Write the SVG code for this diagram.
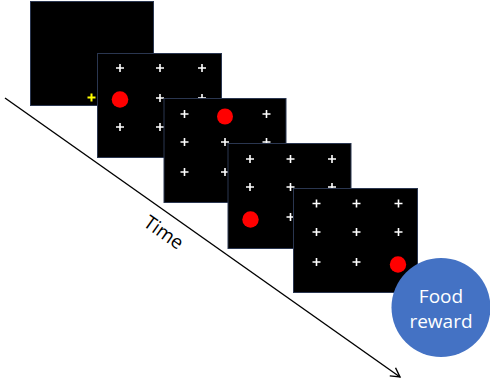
<svg xmlns="http://www.w3.org/2000/svg" width="490" height="383" viewBox="0 0 490 383">
<defs>
<style>
.panel{fill:#000;stroke:#2a3650;stroke-width:1}
.cr{stroke:#fff;stroke-width:1.6;fill:none}
.yc{stroke:#ffff00;stroke-width:2;fill:none}
.dot{fill:#ff0000}
.lbl{font-family:"Open Sans","Liberation Sans",sans-serif;font-size:19px;fill:#fff;text-anchor:middle}
</style>
<path id="x" d="M-4 0H4M0 -4V4"/>
<marker id="ah" markerWidth="12" markerHeight="12" refX="10" refY="6" orient="auto" markerUnits="userSpaceOnUse">
<path d="M1 1L10 6L1 11" fill="none" stroke="#000" stroke-width="1.4"/>
</marker>
</defs>
<g id="connectors">
<line x1="5" y1="98" x2="400" y2="377" stroke="#000" stroke-width="1.4" marker-end="url(#ah)"/>
</g>
<text x="164" y="239" transform="rotate(35.3 164 232)" font-family="'Open Sans','Liberation Sans',sans-serif" font-size="19" text-anchor="middle" fill="#000">Time</text>
<g id="panel1">
<rect class="panel" x="30.5" y="1.5" width="123" height="104"/>
<use href="#x" x="91.5" y="97.5" class="yc"/>
</g>
<g id="panel2">
<rect class="panel" x="97.5" y="53.5" width="124" height="104"/>
<use href="#x" x="120" y="68" class="cr"/>
<use href="#x" x="160" y="68" class="cr"/>
<use href="#x" x="202" y="68" class="cr"/>
<use href="#x" x="160" y="98" class="cr"/>
<use href="#x" x="202" y="98" class="cr"/>
<use href="#x" x="120" y="127" class="cr"/>
<use href="#x" x="160" y="127" class="cr"/>
<use href="#x" x="202" y="127" class="cr"/>
<circle class="dot" cx="120" cy="99.5" r="8.3"/>
</g>
<g id="panel3">
<rect class="panel" x="164" y="98.5" width="122" height="104"/>
<use href="#x" x="184.5" y="114" class="cr"/>
<use href="#x" x="266.5" y="114" class="cr"/>
<use href="#x" x="184.5" y="142" class="cr"/>
<use href="#x" x="225" y="142" class="cr"/>
<use href="#x" x="266.5" y="142" class="cr"/>
<use href="#x" x="184.5" y="172" class="cr"/>
<use href="#x" x="225" y="172" class="cr"/>
<use href="#x" x="266.5" y="172" class="cr"/>
<circle class="dot" cx="225" cy="116.5" r="8"/>
</g>
<g id="panel4">
<rect class="panel" x="228" y="143.5" width="123" height="105"/>
<use href="#x" x="250" y="159" class="cr"/>
<use href="#x" x="290.5" y="159" class="cr"/>
<use href="#x" x="332" y="159" class="cr"/>
<use href="#x" x="250" y="187" class="cr"/>
<use href="#x" x="290.5" y="187" class="cr"/>
<use href="#x" x="332" y="187" class="cr"/>
<use href="#x" x="290.5" y="217" class="cr"/>
<use href="#x" x="332" y="217" class="cr"/>
<circle class="dot" cx="250.5" cy="219.5" r="8.2"/>
</g>
<g id="panel5">
<rect class="panel" x="293.5" y="188.5" width="124" height="104"/>
<use href="#x" x="316.5" y="203.5" class="cr"/>
<use href="#x" x="356.5" y="203.5" class="cr"/>
<use href="#x" x="398.5" y="203.5" class="cr"/>
<use href="#x" x="316.5" y="232" class="cr"/>
<use href="#x" x="356.5" y="232" class="cr"/>
<use href="#x" x="398.5" y="232" class="cr"/>
<use href="#x" x="316.5" y="262" class="cr"/>
<use href="#x" x="356.5" y="262" class="cr"/>
<circle class="dot" cx="398" cy="264.5" r="8.2"/>
</g>
<g id="reward">
<circle cx="441" cy="307.5" r="49.5" fill="#4472c4"/>
<text class="lbl" x="441" y="303">Food</text>
<text class="lbl" x="441" y="328">reward</text>
</g>
</svg>
